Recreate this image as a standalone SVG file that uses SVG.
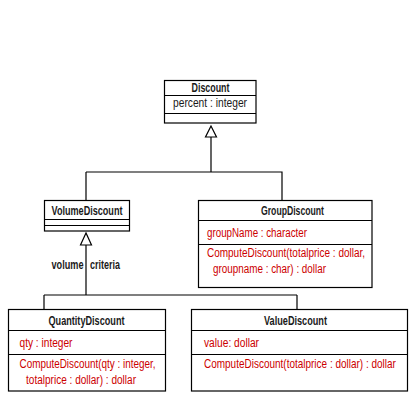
<svg xmlns="http://www.w3.org/2000/svg" width="420" height="420" viewBox="0 0 420 420">
<style>
  .box { fill: #ffffff; stroke: #000000; stroke-width: 1.2; }
  .line { fill: none; stroke: #000000; stroke-width: 1.2; }
  .tri { fill: #ffffff; stroke: #000000; stroke-width: 1.2; }
  text { font-family: "Liberation Sans", Arial, sans-serif; font-size: 12px; }
  .title { font-weight: bold; fill: #1a1a1a; }
  .attr { fill: #1a1a1a; }
  .red { fill: #cc0000; }
  .lbl { fill: #1a1a1a; font-weight: bold; }
</style>
<rect width="420" height="420" fill="#ffffff"/>
<g id="connectors">
  <path class="line" d="M211 137 V172 M86 172 H282 V200 M86 172 V200"/>
  <polygon class="tri" points="211,126 205.5,137 216.5,137"/>
  <path class="line" d="M86 245 V295 M44 295 H297 M44 295 V309 M297 295 V309"/>
  <polygon class="tri" points="86,233 80.5,245 91.5,245"/>
  <text class="lbl" x="51.5" y="269" textLength="32" lengthAdjust="spacingAndGlyphs">volume</text>
  <text class="lbl" x="90" y="269" textLength="30" lengthAdjust="spacingAndGlyphs">criteria</text>
</g>
<g id="Discount">
  <rect class="box" x="164.5" y="80.5" width="91.5" height="42.5"/>
  <path class="line" d="M164.5 95.5 H256 M164.5 113.5 H256"/>
  <text class="title" x="191.5" y="91.5" textLength="38" lengthAdjust="spacingAndGlyphs">Discount</text>
  <text class="attr" x="173" y="106.5" textLength="74" lengthAdjust="spacingAndGlyphs">percent : integer</text>
</g>
<g id="VolumeDiscount">
  <rect class="box" x="44.5" y="200.5" width="85" height="30.5"/>
  <path class="line" d="M44.5 219.5 H129.5 M44.5 225.5 H129.5"/>
  <text class="title" x="51.5" y="215" textLength="71" lengthAdjust="spacingAndGlyphs">VolumeDiscount</text>
</g>
<g id="GroupDiscount">
  <rect class="box" x="198.5" y="200.5" width="173.5" height="87"/>
  <path class="line" d="M198.5 220.5 H372 M198.5 244.5 H372"/>
  <text class="title" x="261" y="215" textLength="63" lengthAdjust="spacingAndGlyphs">GroupDiscount</text>
  <text class="red" x="207" y="237" textLength="100" lengthAdjust="spacingAndGlyphs">groupName : character</text>
  <text class="red" x="207" y="257" textLength="158" lengthAdjust="spacingAndGlyphs">ComputeDiscount(totalprice : dollar,</text>
  <text class="red" x="213" y="272.5" textLength="113" lengthAdjust="spacingAndGlyphs">groupname : char) : dollar</text>
</g>
<g id="QuantityDiscount">
  <rect class="box" x="8.5" y="309.5" width="157" height="81.5"/>
  <path class="line" d="M8.5 330.5 H165.5 M8.5 354.5 H165.5"/>
  <text class="title" x="48.5" y="325" textLength="76" lengthAdjust="spacingAndGlyphs">QuantityDiscount</text>
  <text class="red" x="19.5" y="347" textLength="53" lengthAdjust="spacingAndGlyphs">qty : integer</text>
  <text class="red" x="19.5" y="368" textLength="136" lengthAdjust="spacingAndGlyphs">ComputeDiscount(qty : integer,</text>
  <text class="red" x="26" y="383.5" textLength="110" lengthAdjust="spacingAndGlyphs">totalprice : dollar) : dollar</text>
</g>
<g id="ValueDiscount">
  <rect class="box" x="191.5" y="309.5" width="216" height="81.5"/>
  <path class="line" d="M191.5 330.5 H407.5 M191.5 354.5 H407.5"/>
  <text class="title" x="264" y="325" textLength="63" lengthAdjust="spacingAndGlyphs">ValueDiscount</text>
  <text class="red" x="204" y="347" textLength="55" lengthAdjust="spacingAndGlyphs">value: dollar</text>
  <text class="red" transform="translate(204,368) scale(0.82,1)" x="0" y="0" textLength="234" lengthAdjust="spacingAndGlyphs">ComputeDiscount(totalprice : dollar) : dollar</text>
</g>
</svg>
